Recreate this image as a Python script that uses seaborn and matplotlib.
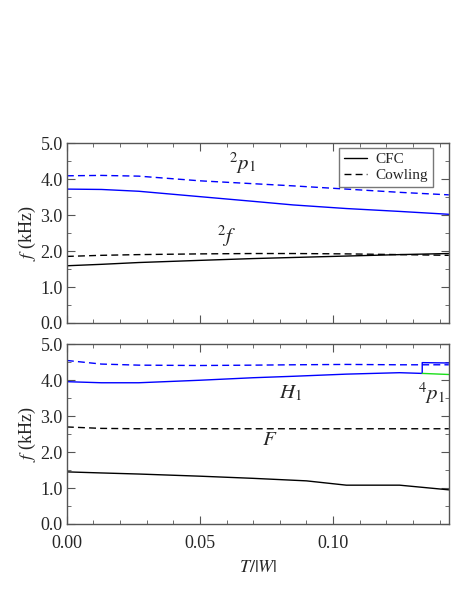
import numpy as np
import pandas as pd
import seaborn as sns
import matplotlib
matplotlib.use("Agg")
import matplotlib.pyplot as plt
from matplotlib.ticker import MultipleLocator

# T/|W| grid
t_w = [0.0, 0.013, 0.027, 0.05, 0.07, 0.085, 0.105, 0.125, 0.1435]

# upper panel: 2p1 and 2f modes
p1_cfc = [3.72, 3.71, 3.66, 3.51, 3.38, 3.28, 3.18, 3.10, 3.02]
p1_cowling = [4.09, 4.10, 4.08, 3.95, 3.87, 3.81, 3.72, 3.63, 3.56]
f2_cfc = [1.59, 1.63, 1.68, 1.74, 1.79, 1.82, 1.86, 1.90, 1.93]
f2_cowling = [1.85, 1.88, 1.90, 1.92, 1.93, 1.93, 1.92, 1.90, 1.88]

# lower panel: H1, F and 4p1
h1_x = [0.0, 0.013, 0.027, 0.05, 0.07, 0.085, 0.105, 0.125, 0.1335, 0.1335, 0.1435]
h1_cfc = [3.96, 3.93, 3.93, 4.00, 4.07, 4.11, 4.17, 4.21, 4.19, 4.49, 4.48]
h1_cowling = [4.55, 4.45, 4.42, 4.41, 4.42, 4.43, 4.44, 4.43, 4.43]
p4_x = [0.1335, 0.1435]
p4_cfc = [4.19, 4.16]
F_x = [0.0, 0.013, 0.027, 0.05, 0.07, 0.09, 0.1, 0.105, 0.125, 0.1435]
F_cfc = [1.45, 1.42, 1.39, 1.33, 1.27, 1.20, 1.12, 1.08, 1.08, 0.95]
F_cowling = [2.70, 2.66, 2.65, 2.65, 2.65, 2.65, 2.65, 2.65, 2.65]

sns.set_style("ticks")
plt.rcParams["font.family"] = ["Liberation Serif", "DejaVu Serif"]
plt.rcParams["mathtext.fontset"] = "stix"

blue = "#0000ff"
green = "#1adf1a"
dash = (5, 3)
lw = 1.0

fig = plt.figure(figsize=(4.58, 5.92), dpi=100)
ax1 = fig.add_axes([0.146, 0.4544, 0.834, 0.304])
ax2 = fig.add_axes([0.146, 0.1149, 0.834, 0.3035])


def line(ax, x, y, color, dashed=False):
    sns.lineplot(x=x, y=y, ax=ax, color=color, lw=lw, estimator=None, sort=False,
                 legend=False)
    if dashed:
        ax.lines[-1].set_dashes(dash)


line(ax1, t_w, p1_cfc, blue)
line(ax1, t_w, p1_cowling, blue, dashed=True)
line(ax1, t_w, f2_cfc, "black")
line(ax1, t_w, f2_cowling, "black", dashed=True)

line(ax2, h1_x, h1_cfc, blue)
line(ax2, t_w, h1_cowling, blue, dashed=True)
line(ax2, p4_x, p4_cfc, green)
line(ax2, F_x, F_cfc, "black")
line(ax2, t_w, F_cowling, "black", dashed=True)

fs = 13
for ax in (ax1, ax2):
    ax.set_xlim(0, 0.1435)
    ax.set_ylim(0, 5)
    ax.xaxis.set_major_locator(MultipleLocator(0.05))
    ax.xaxis.set_minor_locator(MultipleLocator(0.01))
    ax.yaxis.set_major_locator(MultipleLocator(1.0))
    ax.yaxis.set_minor_locator(MultipleLocator(0.5))
    ax.tick_params(which="both", direction="in", top=True, right=True,
                   labelsize=fs, color="#555555")
    ax.tick_params(which="major", length=6)
    ax.tick_params(which="minor", length=3)
    ax.tick_params(axis="y", pad=3)
    ax.tick_params(axis="x", pad=8)
    ax.set_yticklabels([f"{v:.1f}" for v in ax.get_yticks()])
    for s in ax.spines.values():
        s.set_color("#555555")
        s.set_linewidth(1.0)
    ax.set_ylabel("$f$ (kHz)", fontsize=fs, labelpad=2)

ax1.set_xlabel("")
ax1.tick_params(labelbottom=False)
ax2.set_xticklabels([f"{v:.2f}" for v in ax2.get_xticks()])
ax2.set_xlabel("$T/|W|$", fontsize=fs, labelpad=5)

lfs = 15
ax1.text(0.066, 4.45, "$^2p_1$", fontsize=lfs, ha="center", va="center")
ax1.text(0.060, 2.40, "$^2f$", fontsize=lfs, ha="center", va="center")
ax2.text(0.0842, 3.64, "$H_1$", fontsize=lfs, ha="center", va="center")
ax2.text(0.0763, 2.31, "$F$", fontsize=lfs, ha="center", va="center")
ax2.text(0.1368, 3.65, "$^4p_1$", fontsize=lfs, ha="center", va="center")

handles = [plt.Line2D([], [], color="black", lw=lw),
           plt.Line2D([], [], color="black", lw=lw, dashes=dash)]
leg = ax1.legend(handles, ["CFC", "Cowling"], loc="upper right", fontsize=11,
                 bbox_to_anchor=(0.958, 0.972), frameon=True, fancybox=False,
                 edgecolor="#555555", borderaxespad=0, handlelength=1.5,
                 handletextpad=0.6, borderpad=0.3, labelspacing=0.15)
leg.get_frame().set_linewidth(1.0)

fig.savefig("out.png", dpi=100)
